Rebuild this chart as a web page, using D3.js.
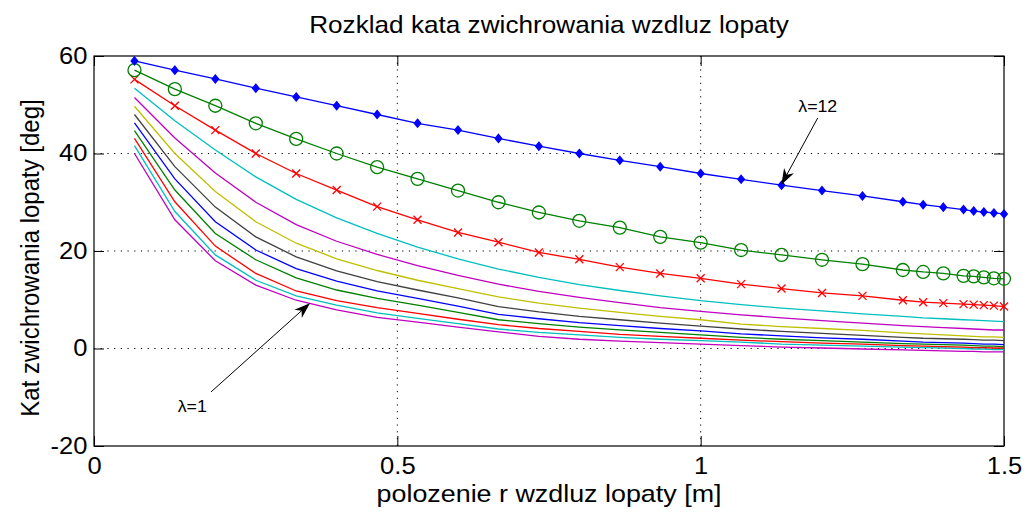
<!DOCTYPE html>
<html>
<head>
<meta charset="utf-8">
<script src="https://cdn.jsdelivr.net/npm/d3@7"></script>
<style>
	body { margin: 0; background: #ffffff; }
	svg { display: block; font-family: "Liberation Sans", Arial, sans-serif; }
	.grid line { stroke: #000; stroke-width: 1; stroke-dasharray: 1.2, 5.5; }
	.axis path { display: none; }
	.axis line { stroke: #000; stroke-width: 1; }
	.axis text { font-size: 23px; fill: #000; }
</style>
</head>
<body>
<div id="chart"></div>
<script>
"use strict";

// Positions along the blade [m]
var rValues = [0.0667, 0.1333, 0.2, 0.2667, 0.3333, 0.4, 0.4667, 0.5333, 0.6, 0.6667,
	0.7333, 0.8, 0.8667, 0.9333, 1.0, 1.0667, 1.1333, 1.2, 1.2667, 1.3333,
	1.3667, 1.4, 1.4333, 1.45, 1.4667, 1.4833, 1.5];

// Twist angle [deg] for each lambda
var twistL1 = [40.0, 26.4, 18.0, 13.0, 9.9, 7.9, 6.4, 5.4, 4.4, 3.4, 2.5, 1.9, 1.5, 1.2, 0.9, 0.6, 0.3, 0.1, -0.1, -0.3, -0.4, -0.5, -0.6, -0.6, -0.7, -0.7, -0.7];
var twistL2 = [41.6, 28.1, 19.2, 14.0, 10.8, 8.9, 7.3, 6.2, 5.1, 4.0, 3.3, 2.8, 2.3, 1.9, 1.6, 1.3, 0.9, 0.7, 0.5, 0.3, 0.2, 0.1, 0.0, -0.1, -0.1, -0.2, -0.2];
var twistL3 = [43.1, 30.1, 21.0, 15.4, 11.8, 9.8, 8.4, 7.2, 6.0, 4.9, 4.1, 3.5, 2.9, 2.5, 2.1, 1.7, 1.4, 1.1, 0.9, 0.6, 0.5, 0.4, 0.3, 0.2, 0.2, 0.1, 0.1];
var twistL4 = [44.7, 32.5, 23.6, 18.2, 14.5, 12.0, 10.3, 8.9, 7.4, 5.9, 5.1, 4.4, 3.8, 3.3, 2.8, 2.3, 1.9, 1.6, 1.3, 1.0, 0.9, 0.8, 0.7, 0.6, 0.5, 0.5, 0.4];
var twistL5 = [46.3, 34.8, 26.0, 20.2, 16.4, 13.8, 11.8, 10.3, 8.7, 7.0, 6.1, 5.3, 4.7, 4.1, 3.6, 3.0, 2.6, 2.2, 1.9, 1.5, 1.3, 1.2, 1.1, 1.0, 0.9, 0.9, 0.8];
var twistL6 = [48.0, 37.3, 29.0, 22.9, 18.8, 15.9, 13.7, 12.0, 10.4, 8.6, 7.5, 6.6, 5.9, 5.2, 4.6, 4.0, 3.5, 3.1, 2.7, 2.3, 2.1, 2.0, 1.9, 1.8, 1.7, 1.7, 1.6];
var twistL7 = [49.7, 40.0, 32.2, 26.0, 21.6, 18.4, 16.0, 14.0, 12.3, 10.6, 9.3, 8.3, 7.4, 6.6, 5.9, 5.0, 4.5, 4.1, 3.7, 3.2, 3.0, 2.8, 2.6, 2.5, 2.4, 2.4, 2.3];
var twistL8 = [51.5, 43.2, 36.0, 30.0, 25.4, 22.0, 19.3, 17.0, 15.0, 13.2, 11.7, 10.5, 9.4, 8.4, 7.6, 6.9, 6.3, 5.7, 5.2, 4.7, 4.5, 4.3, 4.1, 4.0, 3.9, 3.8, 3.8];
var twistL9 = [53.4, 46.7, 40.7, 35.2, 30.6, 26.8, 23.6, 20.8, 18.4, 16.3, 14.6, 13.1, 11.9, 10.8, 9.8, 9.0, 8.3, 7.7, 7.1, 6.6, 6.3, 6.1, 5.9, 5.8, 5.7, 5.6, 5.5];
var twistL10 = [55.2, 49.8, 44.8, 40.0, 35.9, 32.5, 29.1, 26.4, 23.8, 21.8, 19.7, 18.3, 16.7, 15.4, 14.4, 13.2, 12.3, 11.4, 10.8, 9.9, 9.5, 9.3, 9.1, 9.0, 8.9, 8.8, 8.6];
var twistL11 = [57.1, 53.2, 49.8, 46.2, 43.0, 40.0, 37.2, 34.8, 32.4, 30.0, 27.9, 26.2, 24.8, 22.9, 21.7, 20.2, 19.2, 18.2, 17.3, 16.1, 15.7, 15.4, 14.9, 14.8, 14.6, 14.4, 14.3];
var twistL12 = [59.0, 57.1, 55.3, 53.4, 51.6, 49.8, 48.0, 46.2, 44.8, 43.1, 41.5, 40.0, 38.6, 37.3, 35.9, 34.7, 33.5, 32.4, 31.3, 30.1, 29.5, 29.0, 28.5, 28.2, 28.0, 27.8, 27.6];

// Axis ticks
var xTicks = [0, 0.5, 1, 1.5],
	xTickLabels = ["0", "0.5", "1", "1.5"],
	yTicks = [-20, 0, 20, 40, 60],
	yTickLabels = ["-20", "0", "20", "40", "60"];

// Texts
var titleText = "Rozklad kata zwichrowania wzdluz lopaty",
	xLabelText = "polozenie r wzdluz lopaty [m]",
	yLabelText = "Kat zwichrowania lopaty [deg]";

// Series in drawing order (matlab colour order, lambda 12 first)
var seriesList = [
	{ name: "l12", values: twistL12, color: "#0000ff", marker: "diamond" },
	{ name: "l11", values: twistL11, color: "#008000", marker: "circle" },
	{ name: "l10", values: twistL10, color: "#ff0000", marker: "cross" },
	{ name: "l9", values: twistL9, color: "#00bfbf", marker: null },
	{ name: "l8", values: twistL8, color: "#bf00bf", marker: null },
	{ name: "l7", values: twistL7, color: "#bfbf00", marker: null },
	{ name: "l6", values: twistL6, color: "#404040", marker: null },
	{ name: "l5", values: twistL5, color: "#0000ff", marker: null },
	{ name: "l4", values: twistL4, color: "#008000", marker: null },
	{ name: "l3", values: twistL3, color: "#ff0000", marker: null },
	{ name: "l2", values: twistL2, color: "#00bfbf", marker: null },
	{ name: "l1", values: twistL1, color: "#bf00bf", marker: null }
];

// Annotations: label position and arrow in data units
var notes = [
	{ text: "\u03bb=12", tx: 1.193, ty: 48.6, x1: 1.193, y1: 47.3, x2: 1.133, y2: 33.6 },
	{ text: "\u03bb=1", tx: 0.162, ty: -13.0, x1: 0.193, y1: -8.9, x2: 0.356, y2: 9.3 }
];

// Text is a little wider than the font, stretch it
var stretch = "scale(1.11,1)";

// Graph dimensions
var margin = { top: 56, right: 22, bottom: 68, left: 94 },
	width = 1026 - margin.left - margin.right,
	height = 514 - margin.top - margin.bottom;

var svg = d3.select("#chart").append("svg")
	.attr("width", 1026)
	.attr("height", 514);

svg.append("rect")
	.attr("width", 1026)
	.attr("height", 514)
	.attr("fill", "#ffffff");

var canvas = svg.append("g")
	.attr("transform", "translate(" + margin.left + "," + margin.top + ")");

var x = d3.scaleLinear().domain([0, 1.5]).range([0, width]);
var y = d3.scaleLinear().domain([-20, 60]).range([height, 0]);

// Dotted grid
var grid = canvas.append("g").attr("class", "grid");
grid.selectAll(".gx")
	.data(xTicks.filter(function (d) { return d > 0 && d < 1.5; }))
	.enter().append("line")
	.attr("x1", function (d) { return x(d); })
	.attr("x2", function (d) { return x(d); })
	.attr("y1", 0)
	.attr("y2", height);
grid.selectAll(".gy")
	.data(yTicks.filter(function (d) { return d > -20 && d < 60; }))
	.enter().append("line")
	.attr("x1", 0)
	.attr("x2", width)
	.attr("y1", function (d) { return y(d); })
	.attr("y2", function (d) { return y(d); });

// Axes with inward ticks on all four sides
canvas.append("g")
	.attr("class", "axis")
	.attr("transform", "translate(0," + height + ")")
	.call(d3.axisBottom(x).tickValues(xTicks).tickSizeInner(-10).tickSizeOuter(0).tickPadding(12)
		.tickFormat(function (d, i) { return xTickLabels[i]; }))
	.selectAll("text")
	.attr("transform", stretch);

canvas.append("g")
	.attr("class", "axis")
	.call(d3.axisLeft(y).tickValues(yTicks).tickSizeInner(-10).tickSizeOuter(0).tickPadding(6)
		.tickFormat(function (d, i) { return yTickLabels[i]; }))
	.selectAll("text")
	.attr("transform", stretch);

canvas.append("g")
	.attr("class", "axis")
	.call(d3.axisTop(x).tickValues(xTicks).tickSizeInner(-10).tickSizeOuter(0).tickFormat(""));

canvas.append("g")
	.attr("class", "axis")
	.attr("transform", "translate(" + width + ",0)")
	.call(d3.axisRight(y).tickValues(yTicks).tickSizeInner(-10).tickSizeOuter(0).tickFormat(""));

// Box
canvas.append("rect")
	.attr("width", width)
	.attr("height", height)
	.attr("fill", "none")
	.attr("stroke", "#000")
	.attr("stroke-width", 1.2);

// Lines
var line = d3.line()
	.x(function (d, i) { return x(rValues[i]); })
	.y(function (d) { return y(d); });

// Draw from the bottom curve up so the marked ones stay on top
var drawOrder = seriesList.slice().reverse();

canvas.selectAll(".series")
	.data(drawOrder)
	.enter().append("path")
	.attr("class", "series")
	.attr("d", function (d) { return line(d.values); })
	.attr("fill", "none")
	.attr("stroke", function (d) { return d.color; })
	.attr("stroke-width", 1.3);

// Markers
var markerPaths = {
	diamond: "M0,-4L3.3,0L0,4L-3.3,0Z",
	cross: "M-4,-4L4,4M-4,4L4,-4"
};

drawOrder.forEach(function (s) {
	if (!s.marker) {
		return;
	}
	var pts = canvas.append("g").selectAll("g")
		.data(s.values)
		.enter().append("g")
		.attr("transform", function (d, i) {
			return "translate(" + x(rValues[i]) + "," + y(d) + ")";
		});
	if (s.marker === "circle") {
		pts.append("circle")
			.attr("r", 6.5)
			.attr("fill", "none")
			.attr("stroke", s.color)
			.attr("stroke-width", 1.3);
	}
	else {
		pts.append("path")
			.attr("d", markerPaths[s.marker])
			.attr("fill", s.marker === "diamond" ? s.color : "none")
			.attr("stroke", s.color)
			.attr("stroke-width", 1.3);
	}
});

// Annotations
var defs = svg.append("defs");
defs.append("marker")
	.attr("id", "arrowHead")
	.attr("viewBox", "0 0 10 10")
	.attr("refX", 10)
	.attr("refY", 5)
	.attr("markerWidth", 16)
	.attr("markerHeight", 16)
	.attr("markerUnits", "userSpaceOnUse")
	.attr("orient", "auto")
	.append("path")
	.attr("d", "M0,1.5L10,5L0,8.5L3,5Z")
	.attr("fill", "#000");

notes.forEach(function (n) {
	canvas.append("line")
		.attr("x1", x(n.x1))
		.attr("y1", y(n.y1))
		.attr("x2", x(n.x2))
		.attr("y2", y(n.y2))
		.attr("stroke", "#000")
		.attr("stroke-width", 1)
		.attr("marker-end", "url(#arrowHead)");
	canvas.append("g")
		.attr("transform", "translate(" + x(n.tx) + "," + y(n.ty) + ") " + stretch)
		.append("text")
		.attr("text-anchor", "middle")
		.style("font-size", "16px")
		.text(n.text);
});

// Title and axis labels
svg.append("g")
	.attr("transform", "translate(" + (margin.left + width / 2) + ",33) scale(1.09,1)")
	.append("text")
	.attr("text-anchor", "middle")
	.style("font-size", "24px")
	.text(titleText);

svg.append("g")
	.attr("transform", "translate(" + (margin.left + width / 2) + ",502) scale(1.12,1)")
	.append("text")
	.attr("text-anchor", "middle")
	.style("font-size", "24px")
	.text(xLabelText);

svg.append("g")
	.attr("transform", "translate(39," + (margin.top + height / 2 + 7) + ") rotate(-90) scale(1,1.1)")
	.append("text")
	.attr("text-anchor", "middle")
	.style("font-size", "24px")
	.text(yLabelText);
</script>
</body>
</html>
